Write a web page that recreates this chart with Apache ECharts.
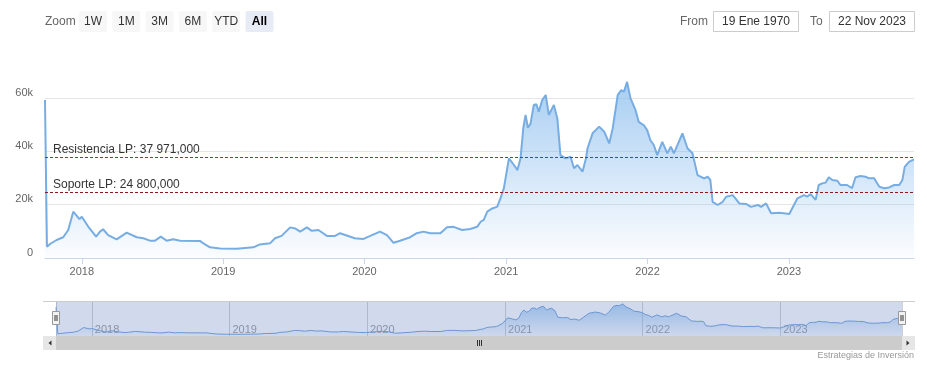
<!DOCTYPE html>
<html>
<head>
<meta charset="utf-8">
<script src="https://cdn.jsdelivr.net/npm/echarts@6/dist/echarts.min.js"></script>
<style>
html,body{margin:0;padding:0;background:#fff;}
#chart{width:927px;height:370px;}
</style>
</head>
<body>
<div id="chart"></div>
<script>
// ---- data ----
const dates = [
'2017-09-28','2017-10-03','2017-10-11','2017-10-28','2017-11-14','2017-11-27','2017-12-10','2017-12-26','2018-01-01',
'2018-01-18','2018-02-07','2018-02-17','2018-02-25','2018-03-10','2018-04-01','2018-04-27','2018-05-23','2018-06-09',
'2018-06-26','2018-07-09','2018-07-24','2018-08-08','2018-08-25','2018-09-12','2018-11-02','2018-11-11','2018-11-28',
'2018-12-24','2019-02-05','2019-03-20','2019-04-06','2019-05-02','2019-05-15','2019-06-01','2019-06-23','2019-07-06',
'2019-07-19','2019-08-05','2019-08-18','2019-09-04','2019-09-26','2019-10-17','2019-10-30','2019-12-07','2019-12-28',
'2020-01-16','2020-02-10','2020-02-28','2020-03-16','2020-04-02','2020-04-28','2020-05-15','2020-06-01','2020-06-19',
'2020-07-15','2020-08-01','2020-08-18','2020-09-09','2020-09-30','2020-10-18','2020-10-27','2020-11-04','2020-11-13',
'2020-11-26','2020-12-09','2020-12-17','2020-12-26','2021-01-08','2021-01-21','2021-01-30','2021-02-07','2021-02-14',
'2021-02-20','2021-02-26','2021-03-05','2021-03-13','2021-03-20','2021-03-26','2021-04-04','2021-04-13','2021-04-21',
'2021-05-04','2021-05-13','2021-05-21','2021-06-03','2021-06-16','2021-06-25','2021-07-04','2021-07-17','2021-07-26',
'2021-07-30','2021-08-12','2021-08-29','2021-09-11','2021-09-24','2021-10-03','2021-10-16','2021-10-25','2021-11-01',
'2021-11-09','2021-11-18','2021-12-01','2021-12-09','2021-12-22','2021-12-31','2022-01-08','2022-01-17','2022-01-26',
'2022-02-08','2022-02-21','2022-03-02','2022-03-10','2022-04-01','2022-04-14','2022-04-27','2022-05-10','2022-05-27',
'2022-06-05','2022-06-12','2022-06-18','2022-07-01','2022-07-14','2022-07-23','2022-08-09','2022-08-26','2022-09-12',
'2022-09-25','2022-10-13','2022-10-21','2022-11-03','2022-11-16','2022-12-08','2023-01-02','2023-01-23','2023-02-09',
'2023-02-17','2023-02-26','2023-03-11','2023-03-19','2023-03-28','2023-04-06','2023-04-14','2023-04-23','2023-05-06',
'2023-05-14','2023-05-31','2023-06-13','2023-06-22','2023-07-05','2023-07-18','2023-07-27','2023-08-09','2023-08-22',
'2023-09-04','2023-09-17','2023-09-30','2023-10-13','2023-10-21','2023-10-27','2023-11-07','2023-11-20'
];
const prices = [
59300,4200,5250,6750,7800,10500,17400,14600,15500,
11700,8000,9900,10800,8600,7000,9500,7800,7400,
6500,6500,8000,6500,7000,6500,6400,5500,4000,
3600,3500,4000,5100,5500,7400,8300,11500,11100,
9900,11500,10200,10500,8300,8300,9300,7400,7100,
8300,9900,8600,5700,6500,7800,9300,9900,9300,
9300,11500,11700,10500,10900,11700,13600,14300,17400,
18600,19300,22400,26200,37400,34900,33000,37400,48700,
53700,48900,50500,57400,57700,54900,59300,61200,53700,
57400,52400,38600,37400,38000,33700,34900,32400,37400,
41200,46800,49300,47400,43000,48700,61200,63000,62400,
66100,59900,55500,51100,49900,48000,44300,42400,38600,
43600,39300,41800,39300,46800,41200,39300,31100,29900,
30500,29300,21100,19900,21100,23000,23600,20500,20300,
19200,19900,19200,20500,16800,17000,16500,22400,23600,
23000,24000,21800,27400,28000,28300,30300,29300,29000,
27400,27400,26200,30300,30800,30500,29900,29900,26800,
26200,26500,27400,27400,29300,34200,36100,37000
];
const resistance = 37971;
const support = 24800;
const resistanceLabel = 'Resistencia LP: 37 971,000';
const supportLabel = 'Soporte LP: 24 800,000';
const rangeButtons = ['1W','1M','3M','6M','YTD','All'];
const selectedButton = 'All';
const fromLabel = 'From', toLabel = 'To';
const fromText = '19 Ene 1970', toText = '22 Nov 2023';
const creditText = 'Estrategias de Inversión';

// ---- chart ----
const FONT = '"Liberation Sans", Arial, sans-serif';
const seriesData = dates.map((d, i) => [d, prices[i]]);
const xMin = dates[0], xMax = dates[dates.length - 1];
const YEAR = 365 * 24 * 3600 * 1000;

const graphics = [];
graphics.push({type:'text', x: 45, y: 22, style:{text:'Zoom', fill:'#666', font:'12px ' + FONT, verticalAlign:'middle'}});
rangeButtons.forEach((b, i) => {
  const x = 79 + i * 33.3;
  const sel = b === selectedButton;
  graphics.push({type:'rect', shape:{x:x, y:11, width:28, height:21, r:2}, style:{fill: sel ? '#e6ebf5' : '#f7f7f7'}});
  graphics.push({type:'text', x: x + 14, y: 21.5, style:{text:b, fill: sel ? '#000' : '#333', font:(sel?'bold ':'') + '12px ' + FONT, align:'center', verticalAlign:'middle'}});
});
graphics.push({type:'text', x: 680, y: 21.5, style:{text:fromLabel, fill:'#666', font:'12px ' + FONT, verticalAlign:'middle'}});
graphics.push({type:'rect', shape:{x:713.5, y:11.5, width:85, height:20}, style:{fill:'#fff', stroke:'#cccccc', lineWidth:1}});
graphics.push({type:'text', x: 756, y: 21.5, style:{text:fromText, fill:'#333', font:'12px ' + FONT, align:'center', verticalAlign:'middle'}});
graphics.push({type:'text', x: 810, y: 21.5, style:{text:toLabel, fill:'#666', font:'12px ' + FONT, verticalAlign:'middle'}});
graphics.push({type:'rect', shape:{x:829.5, y:11.5, width:85, height:20}, style:{fill:'#fff', stroke:'#cccccc', lineWidth:1}});
graphics.push({type:'text', x: 872, y: 21.5, style:{text:toText, fill:'#333', font:'12px ' + FONT, align:'center', verticalAlign:'middle'}});

// navigator mask, outline, handles, scrollbar
graphics.push({type:'rect', z:100, shape:{x:56, y:301, width:846, height:35}, style:{fill:'rgba(102,133,194,0.3)'}});
graphics.push({type:'line', z:101, shape:{x1:43, y1:301.5, x2:915, y2:301.5}, style:{stroke:'#cccccc', lineWidth:1}});
[56, 902].forEach(hx => {
  graphics.push({type:'rect', z:102, shape:{x:hx - 3.5, y:311.5, width:7, height:13}, style:{fill:'#f2f2f2', stroke:'#999', lineWidth:1}});
  graphics.push({type:'line', z:103, shape:{x1:hx - 1, y1:315, x2:hx - 1, y2:321}, style:{stroke:'#333', lineWidth:1}});
  graphics.push({type:'line', z:103, shape:{x1:hx + 1, y1:315, x2:hx + 1, y2:321}, style:{stroke:'#333', lineWidth:1}});
});
graphics.push({type:'rect', z:100, shape:{x:43, y:336, width:872, height:14}, style:{fill:'#f2f2f2'}});
graphics.push({type:'rect', z:101, shape:{x:56, y:336, width:846, height:14}, style:{fill:'#cccccc'}});
graphics.push({type:'rect', z:101, shape:{x:43, y:336, width:13, height:14}, style:{fill:'#e6e6e6'}});
graphics.push({type:'rect', z:101, shape:{x:902, y:336, width:13, height:14}, style:{fill:'#e6e6e6'}});
graphics.push({type:'polygon', z:102, shape:{points:[[51.5,340.5],[51.5,345.5],[48.5,343]]}, style:{fill:'#333'}});
graphics.push({type:'polygon', z:102, shape:{points:[[906.5,340.5],[906.5,345.5],[909.5,343]]}, style:{fill:'#333'}});
[477, 479, 481].forEach(gx => {
  graphics.push({type:'line', z:102, shape:{x1:gx + 0.5, y1:340, x2:gx + 0.5, y2:346}, style:{stroke:'#333', lineWidth:1}});
});
graphics.push({type:'text', right: 13, top: 351, style:{text:creditText, fill:'#999', font:'9px ' + FONT}});

const chart = echarts.init(document.getElementById('chart'), null, {renderer:'canvas'});
chart.setOption({
  animation: false,
  backgroundColor: '#fff',
  textStyle: {fontFamily: FONT},
  grid: [
    {left: 45, right: 13, top: 71.5, height: 186.5},
    {left: 56, right: 25, top: 301, height: 35}
  ],
  xAxis: [
    {
      type: 'time', gridIndex: 0, min: xMin, max: xMax,
      minInterval: YEAR, maxInterval: YEAR * 1.01,
      axisLine: {show: true, lineStyle: {color: '#ccd6eb'}},
      axisTick: {show: true, length: 6, lineStyle: {color: '#ccd6eb'}},
      splitLine: {show: false},
      axisLabel: {color: '#666', fontSize: 11, fontFamily: FONT, margin: 8, formatter: '{yyyy}', showMinLabel: false, showMaxLabel: false}
    },
    {
      type: 'time', gridIndex: 1, min: xMin, max: xMax,
      minInterval: YEAR, maxInterval: YEAR * 1.01,
      axisLine: {show: false}, axisTick: {show: false},
      splitLine: {show: true, lineStyle: {color: '#d0d0d0', width: 1}},
      axisLabel: {inside: true, color: '#999', fontSize: 11, fontFamily: FONT, align: 'left', margin: 1, padding: [0,0,0,3], formatter: '{yyyy}', showMinLabel: false, showMaxLabel: false}
    }
  ],
  yAxis: [
    {
      type: 'value', gridIndex: 0, min: 0, max: 70000, interval: 20000,
      axisLine: {show: false}, axisTick: {show: false},
      splitLine: {show: true, showMinLine: false, showMaxLine: false, lineStyle: {color: '#e6e6e6'}},
      axisLabel: {color: '#666', fontSize: 11, fontFamily: FONT, margin: 12, verticalAlign: 'bottom', showMaxLabel: false,
        formatter: v => v === 0 ? '0' : (v / 1000) + 'k'}
    },
    {type: 'value', gridIndex: 1, min: 0, max: 72000, show: false, splitLine: {show: false}}
  ],
  series: [
    {
      type: 'line', xAxisIndex: 0, yAxisIndex: 0, data: seriesData,
      showSymbol: false, symbol: 'none', smooth: false,
      lineStyle: {color: '#77ade2', width: 2},
      areaStyle: {color: new echarts.graphic.LinearGradient(0, 0, 0, 1, [
        {offset: 0, color: 'rgba(124,181,236,0.95)'},
        {offset: 1, color: 'rgba(124,181,236,0.04)'}
      ])},
      markLine: {
        silent: true, symbol: 'none',
        data: [
          {yAxis: resistance, lineStyle: {color: '#2d6a2d', type: [3, 2], width: 1},
            label: {formatter: resistanceLabel}},
          {yAxis: support, lineStyle: {color: '#8b1a1a', type: [3, 2], width: 1},
            label: {formatter: supportLabel}}
        ],
        label: {show: true, position: 'insideStartTop', distance: [8, 1], color: '#333', fontSize: 12, fontFamily: FONT}
      }
    },
    {
      type: 'line', xAxisIndex: 1, yAxisIndex: 1, data: seriesData,
      showSymbol: false, symbol: 'none',
      lineStyle: {color: '#6f9fd6', width: 1},
      areaStyle: {color: new echarts.graphic.LinearGradient(0, 0, 0, 1, [
        {offset: 0, color: 'rgba(124,181,236,0.9)'},
        {offset: 1, color: 'rgba(124,181,236,0.05)'}
      ])}
    }
  ],
  graphic: graphics
});
</script>
</body>
</html>
